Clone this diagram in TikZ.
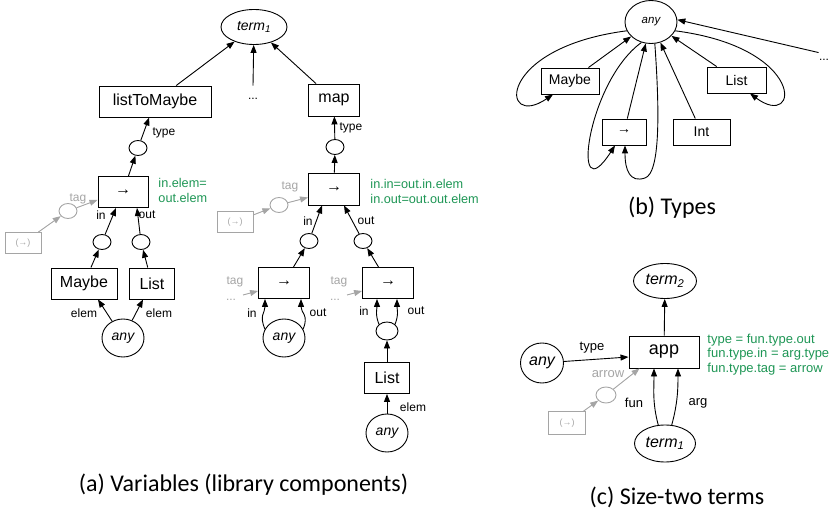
\documentclass[tikz,border=0pt]{standalone}
\usepackage{fontspec}
\setmainfont{Liberation Sans}
\newfontfamily\capfont{Carlito}
\usetikzlibrary{arrows.meta,shapes.geometric,calc}

\definecolor{notegreen}{RGB}{30,150,85}
\definecolor{ghost}{RGB}{165,165,165}

\tikzset{
  box/.style={draw, minimum height=31pt, inner sep=0pt, font={\fontsize{16}{19}\selectfont}},
  sbox/.style={draw, minimum height=26pt, inner sep=0pt, font={\fontsize{14}{17}\selectfont}},
  oval/.style={draw, ellipse, inner sep=0pt, font={\fontsize{14}{17}\selectfont\itshape}},
  hole/.style={draw, ellipse, minimum width=18pt, minimum height=15pt, inner sep=0pt},
  ghole/.style={hole, draw=ghost},
  gbox/.style={draw=ghost, text=ghost, minimum width=36pt, minimum height=21pt, inner sep=0pt, font={\fontsize{9}{11}\selectfont}},
  lbl/.style={inner sep=0pt, font={\fontsize{12}{14}\selectfont}},
  glbl/.style={lbl, text=ghost},
  note/.style={anchor=west, align=left, inner sep=0pt, text=notegreen, font={\fontsize{12.7}{15}\selectfont}},
  subcap/.style={inner sep=0pt, font={\capfont\fontsize{24}{28}\selectfont}},
  ed/.style={-{Triangle[length=8pt,width=6pt]}},
  ged/.style={ed, draw=ghost, fill=ghost},
}

\begin{document}
\begin{tikzpicture}[x=1pt,y=-1pt,line width=.9pt]
  \useasboundingbox (0,0) rectangle (831,516);

  % (a) variables
  \node[oval, minimum width=66pt, minimum height=35pt] (termA) at (254,27) {term\textsubscript{1}};
  \node[box, minimum width=112pt] (ltm) at (155,101.5) {listToMaybe};
  \node[lbl, minimum height=26pt] (dotsA) at (253,99) {...};
  \node[box, minimum width=51pt, minimum height=32pt] (map) at (334,100) {map};

  \node[hole] (typeA) at (138,148) {};
  \node[box, minimum width=50pt] (arrA) at (123,192) {→};
  \node[note] (noteA) at (158,190.5) {in.elem=\\out.elem};
  \node[ghole] (tagA) at (68,211) {};
  \node[gbox] (gboxA) at (23,243) {(→)};
  \node[hole] (inA) at (102,242) {};
  \node[hole] (outA) at (141,242) {};
  \node[box, minimum width=66pt] (maybeA) at (84,283.5) {Maybe};
  \node[box, minimum width=45pt] (listA) at (152,283.5) {List};
  \node[oval, minimum width=42pt, minimum height=38pt] (anyA) at (123,338) {any};

  \node[lbl] (lTypeA) at (164,133) {type};
  \node[glbl] (lTagA) at (78,199) {tag};
  \node[lbl] (lInA) at (101,215) {in};
  \node[lbl] (lOutA) at (147,215) {out};
  \node[lbl] (lElemA1) at (84,313) {elem};
  \node[lbl] (lElemA2) at (159,313) {elem};

  \draw[ed] (ltm) -- (termA);
  \draw[ed] (dotsA.north) -- (termA);
  \draw[ed] (map) -- (termA);
  \draw[ed] (typeA) -- (ltm);
  \draw[ed] (arrA) -- (typeA);
  \draw[ged] (tagA) -- ([yshift=8pt]arrA.south west);
  \draw[ged] (gboxA) -- (tagA);
  \draw[ed] (inA) -- ([xshift=-7pt]arrA.south);
  \draw[ed] (outA) -- ([xshift=14pt]arrA.south);
  \draw[ed] (maybeA) -- (inA);
  \draw[ed] (listA) -- (outA);
  \draw[ed] (anyA) -- ([xshift=14pt]maybeA.south);
  \draw[ed] (anyA) -- ([xshift=-9pt]listA.south);

  % map branch
  \node[hole] (typeM) at (335,147) {};
  \node[box, minimum width=51pt, minimum height=32pt] (arrM) at (334,189) {→};
  \node[note] (noteM) at (370,191) {in.in=out.in.elem\\in.out=out.out.elem};
  \node[ghole] (tagM) at (279,205) {};
  \node[gbox] (gboxM) at (235,222) {(→)};
  \node[hole] (inM) at (309,241) {};
  \node[hole] (outM) at (363,241) {};
  \node[box, minimum width=51pt] (arrL) at (284,283) {→};
  \node[box, minimum width=51pt] (arrR) at (388,283) {→};
  \node[oval, minimum width=42pt, minimum height=38pt] (anyL) at (284,338) {any};
  \node[hole, minimum width=22pt, minimum height=18pt] (midR) at (387,331) {};
  \node[box, minimum width=45pt] (listR) at (387,378) {List};
  \node[oval, minimum width=42pt, minimum height=38pt] (anyR) at (387,433) {any};

  \node[lbl] (lTypeM) at (351,128) {type};
  \node[glbl] (lTagM) at (290,187) {tag};
  \node[lbl] (lInM) at (308,221) {in};
  \node[lbl] (lOutM) at (366,221) {out};
  \node[glbl] (lTagL) at (235,282) {tag};
  \node[glbl] (dotsL) at (231,300) {...};
  \node[glbl] (lTagR) at (339,282) {tag};
  \node[glbl] (dotsR) at (335,300) {...};
  \node[lbl] (lInL) at (252,313) {in};
  \node[lbl] (lOutL) at (318,313) {out};
  \node[lbl] (lInR) at (364,311) {in};
  \node[lbl] (lOutR) at (416,311) {out};
  \node[lbl] (lElemR) at (413,407) {elem};
  \coordinate (tagLs) at (243,295);
  \coordinate (tagRs) at (347,295);

  \draw[ed] (arrM) -- (typeM);
  \draw[ed] (typeM) -- (map);
  \draw[ged] (tagM) -- ([yshift=8pt]arrM.south west);
  \draw[ged] (gboxM) -- (tagM);
  \draw[ed] (inM) -- ([xshift=-12pt]arrM.south);
  \draw[ed] (outM) -- ([xshift=10pt]arrM.south);
  \draw[ed] (arrL) -- (inM);
  \draw[ed] (arrR) -- (outM);
  \draw[ged] (tagLs) -- ([yshift=8pt]arrL.south west);
  \draw[ged] (tagRs) -- ([yshift=8pt]arrR.south west);
  \draw[ed] (anyL.155) .. controls +(-6,-14) and +(0,14) .. ([xshift=-19pt]arrL.south);
  \draw[ed] (anyL.25) .. controls +(6,-14) and +(0,14) .. ([xshift=17pt]arrL.south);
  \draw[ed] (midR.140) .. controls +(-4,-10) and +(0,10) .. ([xshift=-11pt]arrR.south);
  \draw[ed] (midR.40) .. controls +(4,-10) and +(0,10) .. ([xshift=9pt]arrR.south);
  \draw[ed] (listR) -- (midR);
  \draw[ed] (anyR) -- (listR);

  \node[subcap] (capA) at (243.5,485) {(a) Variables (library components)};

  % (b) types
  \node[oval, minimum width=52pt, minimum height=43pt, font={\fontsize{11.5}{14}\selectfont\itshape}] (anyB) at (651,22) {any};
  \node[sbox, minimum width=58pt] (maybeB) at (570,81) {Maybe};
  \node[sbox, minimum width=44pt] (arrB) at (624,132) {→};
  \node[sbox, minimum width=57pt] (intB) at (701.5,132) {Int};
  \node[sbox, minimum width=59pt] (listB) at (736.5,80) {List};
  \node[lbl, minimum height=14pt] (dotsB) at (824,60) {...};

  \draw[ed] (maybeB) -- (anyB);
  \draw[ed] (arrB) -- (anyB);
  \draw[ed] (intB) -- (anyB);
  \draw[ed] (listB) -- (anyB);
  \draw[ed] (dotsB.north west) -- (anyB.5);
  \draw[ed] (anyB.200) .. controls +(-132,17) and +(-53,36) .. ([xshift=-17pt]maybeB.south);
  \draw[ed] (anyB.340) .. controls +(132,17) and +(50,37) .. ([xshift=13.5pt]listB.south);
  \draw[ed] (anyB.245) .. controls +(-55,40) and +(-45,70) .. ([xshift=-9pt]arrB.south);
  \draw[ed] (anyB.280) .. controls +(5,70) and +(15,-5) .. (645,178)
    .. controls +(-15,5) and +(0,25) .. ([xshift=1pt]arrB.south);

  \node[subcap] (capB) at (672,208) {(b) Types};

  % (c) size-two terms
  \node[oval, minimum width=63pt, minimum height=35pt, font={\fontsize{16}{19}\selectfont\itshape}] (termC2) at (665,281) {term\textsubscript{2}};
  \node[box, minimum width=70pt, minimum height=32pt, font={\fontsize{18}{21}\selectfont}] (app) at (664,352) {app};
  \node[note, font={\fontsize{13}{14.5}\selectfont}] (noteC) at (707,354.5) {type = fun.type.out\\fun.type.in = arg.type\\fun.type.tag = arrow};
  \node[oval, minimum width=43pt, minimum height=40pt, font={\fontsize{16}{19}\selectfont\itshape}] (anyC) at (542,363) {any};
  \node[ghole, minimum width=20pt, minimum height=16pt] (tagC) at (606,395) {};
  \node[gbox, minimum width=37pt, minimum height=23pt] (gboxC) at (567,423) {(→)};
  \node[oval, minimum width=61pt, minimum height=37pt, font={\fontsize{16}{19}\selectfont\itshape}] (termC1) at (665,443.5) {term\textsubscript{1}};

  \node[lbl, font={\fontsize{13}{15}\selectfont}] (lTypeC) at (592,348) {type};
  \node[glbl, font={\fontsize{13}{15}\selectfont}] (lArrowC) at (608,374) {arrow};
  \node[lbl, font={\fontsize{13}{15}\selectfont}] (lFunC) at (634,403) {fun};
  \node[lbl, font={\fontsize{13}{15}\selectfont}] (lArgC) at (698,403) {arg};

  \draw[ed] (app) -- (termC2);
  \draw[ed] (anyC) -- ([yshift=-5pt]app.west);
  \draw[ged] (tagC) -- ([xshift=11pt]app.south west);
  \draw[ged] (gboxC) -- (tagC);
  \draw[ed] (termC1.110) .. controls +(-6,-22) and +(0,20) .. ([xshift=-10pt]app.south);
  \draw[ed] (termC1.70) .. controls +(6,-22) and +(0,20) .. ([xshift=14pt]app.south);

  \node[subcap] (capC) at (677,497) {(c) Size-two terms};

\end{tikzpicture}
\end{document}
